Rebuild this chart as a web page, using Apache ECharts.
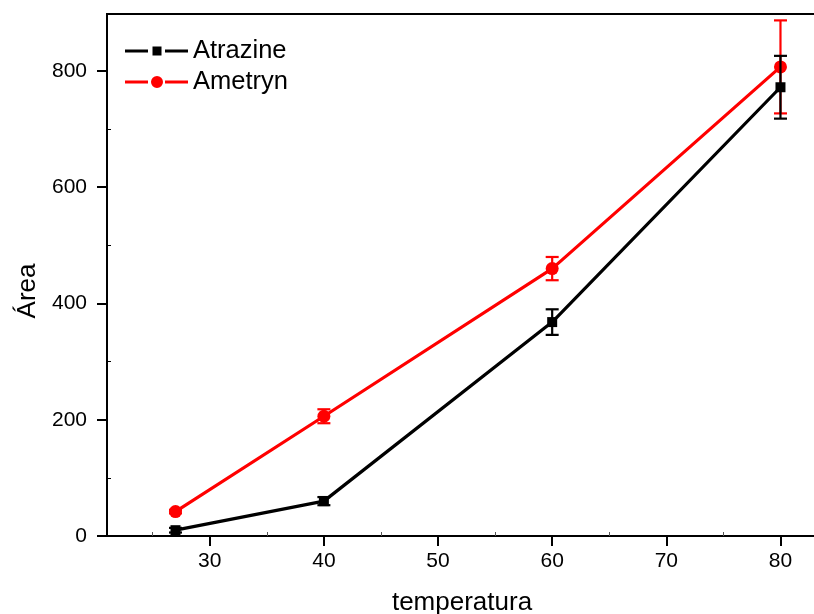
<!DOCTYPE html>
<html>
<head>
<meta charset="utf-8">
<script src="https://cdn.jsdelivr.net/npm/echarts@6/dist/echarts.min.js"></script>
<style>
  html, body { margin: 0; padding: 0; background: #fff; }
  #chart { width: 814px; height: 614px; }
</style>
</head>
<body>
<div id="chart"></div>
<script>
// Peak area versus temperature for two triazines, with standard deviations.
const temperatures = [27, 40, 60, 80];
const atrazineArea = [10, 60, 368, 772];
const atrazineErr  = [4, 7, 22, 54];
const ametrynArea  = [42, 206, 460, 807];
const ametrynErr   = [3, 12, 20, 80];

const xTicks = [30, 40, 50, 60, 70, 80];
const xMinorTicks = [25, 35, 45, 55, 65, 75];
const yTicks = [0, 200, 400, 600, 800];
const yMinorTicks = [100, 300, 500, 700];

const FONT = "'Liberation Sans', Arial, sans-serif";

function points(xs, ys) {
  return xs.map((x, i) => [x, ys[i]]);
}
function errorRanges(xs, ys, es) {
  return xs.map((x, i) => [x, ys[i] - es[i], ys[i] + es[i]]);
}

// Vertical error bar with horizontal caps
function errorBarRenderer(color) {
  return function (params, api) {
    const x = api.value(0);
    const lo = api.coord([x, api.value(1)]);
    const hi = api.coord([x, api.value(2)]);
    const half = 6.5;
    const style = { stroke: color, lineWidth: 2.2, fill: null };
    return {
      type: 'group',
      children: [
        { type: 'line', shape: { x1: hi[0], y1: hi[1], x2: lo[0], y2: lo[1] }, style: style },
        { type: 'line', shape: { x1: hi[0] - half, y1: hi[1], x2: hi[0] + half, y2: hi[1] }, style: style },
        { type: 'line', shape: { x1: lo[0] - half, y1: lo[1], x2: lo[0] + half, y2: lo[1] }, style: style }
      ]
    };
  };
}

// Legend glyphs: line broken around the marker
const iconSquare = 'path://M0 4.5H23V7.5H0Z M27.5 1.5H36.5V10.5H27.5Z M40 4.5H63V7.5H40Z';
const iconCircle = 'path://M0 4.5H23V7.5H0Z M40 4.5H63V7.5H40Z M38 6A6 6 0 1 1 26 6A6 6 0 1 1 38 6Z';

const X_MIN = 21, X_MAX = 83.2;

const chart = echarts.init(document.getElementById('chart'), null, { renderer: 'canvas' });

chart.setOption({
  animation: false,
  backgroundColor: '#ffffff',
  textStyle: { fontFamily: FONT },
  grid: {
    left: 107, top: 14, width: 710, height: 522,
    outerBoundsMode: 'none',
    containLabel: false,
    show: true, borderColor: '#000', borderWidth: 2, backgroundColor: 'transparent'
  },
  legend: {
    orient: 'vertical',
    left: 125, top: 38,
    padding: 0,
    itemGap: 5,
    itemWidth: 63, itemHeight: 12,
    textStyle: { fontFamily: FONT, fontSize: 25.5, color: '#000', lineHeight: 26 },
    data: [
      { name: 'Atrazine', icon: iconSquare, itemStyle: { color: '#000' } },
      { name: 'Ametryn', icon: iconCircle, itemStyle: { color: '#ff0000' } }
    ]
  },
  xAxis: [
    {
      type: 'value', min: X_MIN, max: X_MAX,
      name: 'temperatura', nameLocation: 'middle', nameGap: 54,
      nameTextStyle: { fontFamily: FONT, fontSize: 26, color: '#000', padding: [0, 0, 0, 0] },
      axisLine: { lineStyle: { color: '#000', width: 2 } },
      axisTick: { customValues: xTicks, length: 10, lineStyle: { color: '#000', width: 2 } },
      axisLabel: { customValues: xTicks, fontFamily: FONT, fontSize: 21, color: '#000', margin: 15 },
      splitLine: { show: false }
    },
    {
      type: 'value', min: X_MIN, max: X_MAX, position: 'bottom',
      axisLine: { show: false },
      axisTick: { customValues: xMinorTicks, inside: true, length: 4, lineStyle: { color: '#555', width: 1 } },
      axisLabel: { show: false },
      splitLine: { show: false }
    }
  ],
  yAxis: [
    {
      type: 'value', min: 0, max: 898,
      name: 'Área', nameLocation: 'middle', nameGap: 64,
      nameTextStyle: { fontFamily: FONT, fontSize: 26, color: '#000', padding: [0, 32, 0, 0] },
      axisLine: { lineStyle: { color: '#000', width: 2 } },
      axisTick: { customValues: yTicks, length: 10, lineStyle: { color: '#000', width: 2 } },
      axisLabel: { customValues: yTicks, fontFamily: FONT, fontSize: 21, color: '#000', margin: 20 },
      splitLine: { show: false }
    },
    {
      type: 'value', min: 0, max: 898, position: 'left',
      axisLine: { show: false },
      axisTick: { customValues: yMinorTicks, inside: true, length: 4, lineStyle: { color: '#000', width: 1 } },
      axisLabel: { show: false },
      splitLine: { show: false }
    }
  ],
  series: [
    {
      name: 'Ametryn', type: 'line', z: 2,
      data: points(temperatures, ametrynArea),
      symbol: 'circle', symbolSize: 13,
      itemStyle: { color: '#ff0000' },
      lineStyle: { color: '#ff0000', width: 3.2 }
    },
    {
      name: 'Ametryn', type: 'custom', z: 2,
      renderItem: errorBarRenderer('#ff0000'),
      encode: { x: 0, y: [1, 2] },
      data: errorRanges(temperatures, ametrynArea, ametrynErr)
    },
    {
      name: 'Atrazine', type: 'line', z: 3,
      data: points(temperatures, atrazineArea),
      symbol: 'rect', symbolSize: 10,
      itemStyle: { color: '#000' },
      lineStyle: { color: '#000', width: 3.2 }
    },
    {
      name: 'Atrazine', type: 'custom', z: 3,
      renderItem: errorBarRenderer('#000'),
      encode: { x: 0, y: [1, 2] },
      data: errorRanges(temperatures, atrazineArea, atrazineErr)
    }
  ]
});
</script>
</body>
</html>
